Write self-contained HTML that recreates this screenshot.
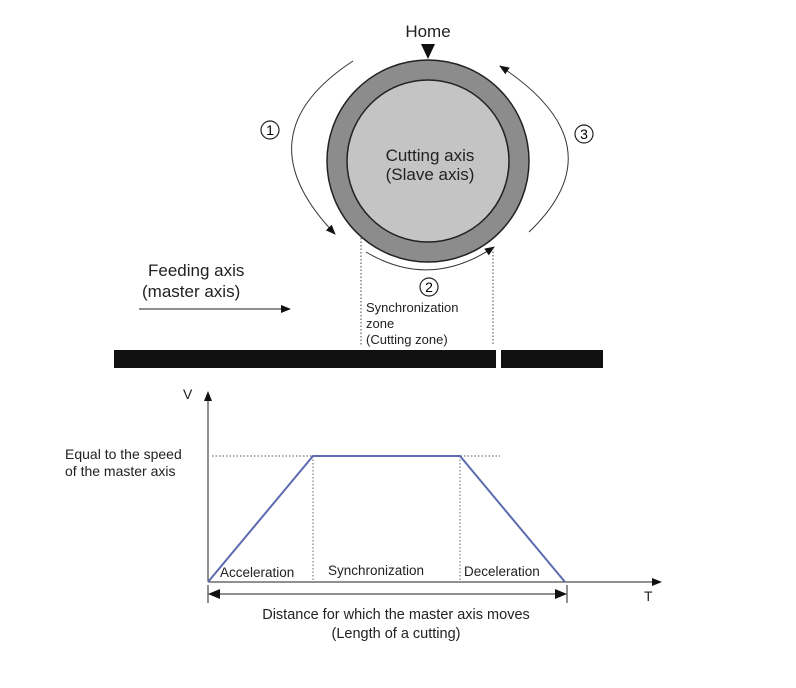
<!DOCTYPE html>
<html><head><meta charset="utf-8"><style>
html,body{margin:0;padding:0;background:#fff;}
svg{display:block;font-family:"Liberation Sans",Arial,sans-serif;}
</style></head><body>
<svg width="796" height="688" viewBox="0 0 796 688" xmlns="http://www.w3.org/2000/svg">
<defs>
<marker id="ah" markerWidth="10" markerHeight="8" refX="9" refY="4" orient="auto" markerUnits="userSpaceOnUse"><path d="M0,0 L10,4 L0,8 z" fill="#111"/></marker>
<marker id="ahb" markerWidth="12" markerHeight="10" refX="11" refY="5" orient="auto-start-reverse" markerUnits="userSpaceOnUse"><path d="M0,0 L12,5 L0,10 z" fill="#111"/></marker>
</defs>
<text x="428" y="37" font-size="17" text-anchor="middle" fill="#222">Home</text>
<path d="M421,44 L435,44 L428,59 z" fill="#111"/>
<circle cx="428" cy="161" r="101" fill="#8c8c8c" stroke="#222" stroke-width="1.5"/>
<circle cx="428" cy="161" r="81" fill="#c4c4c4" stroke="#222" stroke-width="1.5"/>
<text x="430" y="161" font-size="17" text-anchor="middle" fill="#222">Cutting axis</text>
<text x="430" y="180" font-size="17" text-anchor="middle" fill="#222">(Slave axis)</text>
<path d="M353,61 Q240,135 335,234" fill="none" stroke="#333" stroke-width="1" marker-end="url(#ah)"/>
<path d="M529,232 Q620,145 500,66" fill="none" stroke="#333" stroke-width="1" marker-end="url(#ah)"/>
<path d="M366,252 Q430,290 494,247" fill="none" stroke="#333" stroke-width="1" marker-end="url(#ah)"/>
<circle cx="270" cy="130" r="9" fill="none" stroke="#222" stroke-width="1.2"/><text x="270" y="135" font-size="14" text-anchor="middle">1</text>
<circle cx="584" cy="134" r="9" fill="none" stroke="#222" stroke-width="1.2"/><text x="584" y="139" font-size="14" text-anchor="middle">3</text>
<circle cx="429" cy="287" r="9" fill="none" stroke="#222" stroke-width="1.2"/><text x="429" y="292" font-size="14" text-anchor="middle">2</text>
<line x1="361" y1="238" x2="361" y2="346" stroke="#444" stroke-dasharray="1.5,2"/>
<line x1="493" y1="248" x2="493" y2="346" stroke="#444" stroke-dasharray="1.5,2"/>
<text x="366" y="312" font-size="13" fill="#222">Synchronization</text>
<text x="366" y="328" font-size="13" fill="#222">zone</text>
<text x="366" y="344" font-size="13" fill="#222">(Cutting zone)</text>
<text x="148" y="276" font-size="17" fill="#222">Feeding axis</text>
<text x="142" y="297" font-size="17" fill="#222">(master axis)</text>
<line x1="139" y1="309" x2="290" y2="309" stroke="#222" marker-end="url(#ah)"/>
<rect x="114" y="350" width="382" height="18" fill="#111"/>
<rect x="501" y="350" width="102" height="18" fill="#111"/>
<line x1="208" y1="582" x2="208" y2="392" stroke="#222" marker-end="url(#ah)"/>
<line x1="208" y1="582" x2="661" y2="582" stroke="#222" marker-end="url(#ah)"/>
<text x="183" y="399" font-size="14" fill="#222">V</text>
<text x="644" y="601" font-size="14" fill="#222">T</text>
<text x="65" y="459" font-size="14" fill="#222">Equal to the speed</text>
<text x="65" y="476" font-size="14" fill="#222">of the master axis</text>
<line x1="212" y1="456" x2="500" y2="456" stroke="#555" stroke-dasharray="1.5,2"/>
<line x1="313" y1="456" x2="313" y2="582" stroke="#666" stroke-dasharray="1.5,2"/>
<line x1="460" y1="456" x2="460" y2="582" stroke="#666" stroke-dasharray="1.5,2"/>
<path d="M208,582 L313,456 L460,456 L565,582" fill="none" stroke="#5c6bb0" stroke-width="2"/>
<text x="220" y="577" font-size="13.5" fill="#222">Acceleration</text>
<text x="328" y="575" font-size="13.5" fill="#222">Synchronization</text>
<text x="464" y="576" font-size="13.5" fill="#222">Deceleration</text>
<line x1="208" y1="585" x2="208" y2="603" stroke="#222"/>
<line x1="567" y1="585" x2="567" y2="603" stroke="#222"/>
<line x1="209" y1="594" x2="566" y2="594" stroke="#222" marker-start="url(#ahb)" marker-end="url(#ahb)"/>
<text x="396" y="619" font-size="14.5" text-anchor="middle" fill="#222">Distance for which the master axis moves</text>
<text x="396" y="638" font-size="14.5" text-anchor="middle" fill="#222">(Length of a cutting)</text>
</svg>
</body></html>
